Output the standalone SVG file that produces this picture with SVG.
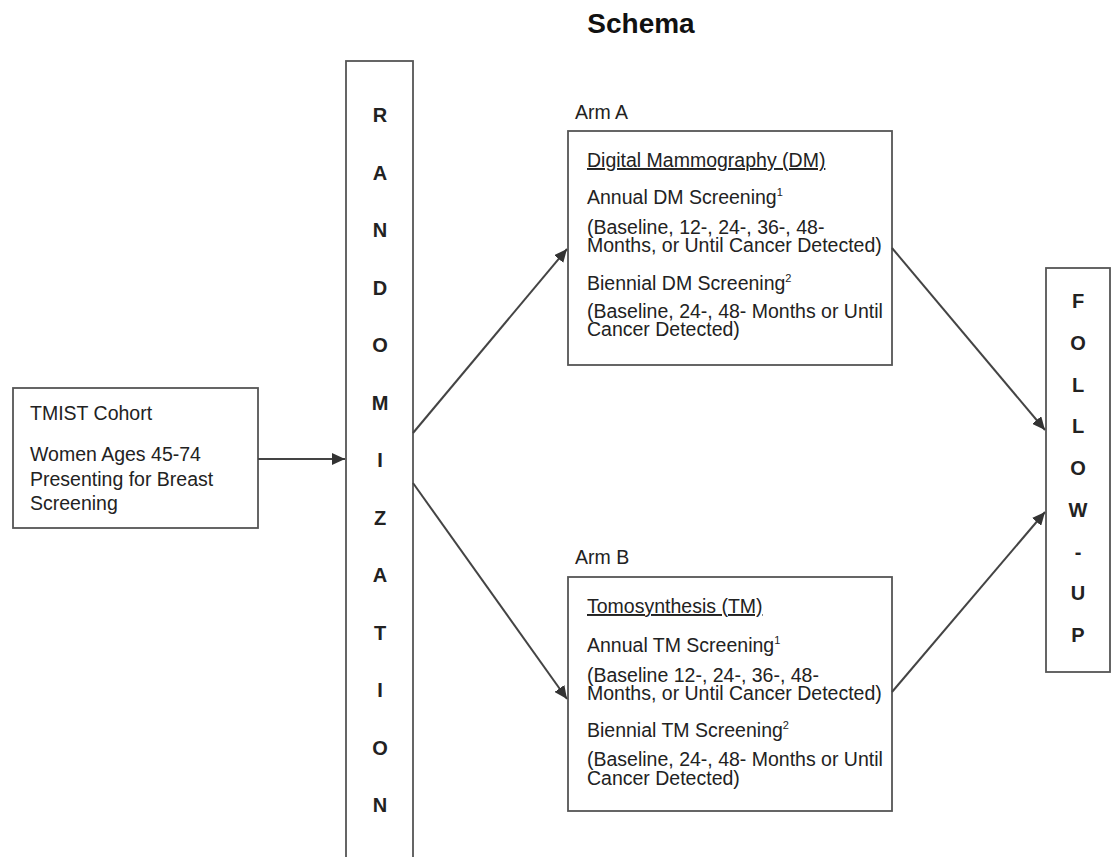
<svg xmlns="http://www.w3.org/2000/svg" width="1112" height="857" viewBox="0 0 1112 857">
<style>
.box{fill:#fff;stroke:#555;stroke-width:1.8}
.t{font-family:"Liberation Sans",Arial,sans-serif;font-size:19.5px;fill:#222}
.big{font-family:"Liberation Sans",Arial,sans-serif;font-size:20px;font-weight:bold;fill:#222;text-anchor:middle}
.title{font-family:"Liberation Sans",Arial,sans-serif;font-size:28px;font-weight:bold;fill:#111;text-anchor:middle}
.u{text-decoration:underline}
.sup{font-size:11px}
.conn{fill:none;stroke:#444;stroke-width:2}
</style>
<defs>
<marker id="ah" markerUnits="userSpaceOnUse" markerWidth="14" markerHeight="12" refX="13" refY="6" orient="auto">
<path d="M0,0 L13,6 L0,12 Z" fill="#333"/>
</marker>
</defs>
<rect width="1112" height="857" fill="#fff"/>
<text class="title" x="641" y="33">Schema</text>

<g id="cohort">
<rect class="box" x="13" y="388" width="245" height="140"/>
<text class="t" x="30" y="420">TMIST Cohort</text>
<text class="t" x="30" y="461">Women Ages 45-74</text>
<text class="t" x="30" y="486">Presenting for Breast</text>
<text class="t" x="30" y="510">Screening</text>
</g>

<g id="randomization">
<rect class="box" x="346" y="61" width="67" height="810"/>
<text class="big" x="380" y="122">R</text>
<text class="big" x="380" y="179.5">A</text>
<text class="big" x="380" y="237">N</text>
<text class="big" x="380" y="294.5">D</text>
<text class="big" x="380" y="352">O</text>
<text class="big" x="380" y="409.5">M</text>
<text class="big" x="380" y="467">I</text>
<text class="big" x="380" y="524.5">Z</text>
<text class="big" x="380" y="582">A</text>
<text class="big" x="380" y="639.5">T</text>
<text class="big" x="380" y="697">I</text>
<text class="big" x="380" y="754.5">O</text>
<text class="big" x="380" y="812">N</text>
</g>

<g id="armA">
<text class="t" x="575" y="119">Arm A</text>
<rect class="box" x="568" y="131" width="324" height="234"/>
<text class="t u" x="587" y="167">Digital Mammography (DM)</text>
<text class="t" x="587" y="204">Annual DM Screening<tspan class="sup" dy="-8">1</tspan></text>
<text class="t" x="587" y="234">(Baseline, 12-, 24-, 36-, 48-</text>
<text class="t" x="587" y="252">Months, or Until Cancer Detected)</text>
<text class="t" x="587" y="290">Biennial DM Screening<tspan class="sup" dy="-8">2</tspan></text>
<text class="t" x="587" y="318">(Baseline, 24-, 48- Months or Until</text>
<text class="t" x="587" y="336">Cancer Detected)</text>
</g>

<g id="armB">
<text class="t" x="575" y="564">Arm B</text>
<rect class="box" x="568" y="577" width="324" height="234"/>
<text class="t u" x="587" y="613">Tomosynthesis (TM)</text>
<text class="t" x="587" y="652">Annual TM Screening<tspan class="sup" dy="-8">1</tspan></text>
<text class="t" x="587" y="682">(Baseline 12-, 24-, 36-, 48-</text>
<text class="t" x="587" y="700">Months, or Until Cancer Detected)</text>
<text class="t" x="587" y="737">Biennial TM Screening<tspan class="sup" dy="-8">2</tspan></text>
<text class="t" x="587" y="766">(Baseline, 24-, 48- Months or Until</text>
<text class="t" x="587" y="785">Cancer Detected)</text>
</g>

<g id="followup">
<rect class="box" x="1046" y="268" width="64" height="404"/>
<text class="big" x="1078" y="308">F</text>
<text class="big" x="1078" y="350">O</text>
<text class="big" x="1078" y="391.5">L</text>
<text class="big" x="1078" y="433">L</text>
<text class="big" x="1078" y="475">O</text>
<text class="big" x="1078" y="517">W</text>
<text class="big" x="1078" y="558.5">-</text>
<text class="big" x="1078" y="600">U</text>
<text class="big" x="1078" y="642">P</text>
</g>

<g id="connectors">
<path class="conn" d="M258,459 L345,459" marker-end="url(#ah)"/>
<path class="conn" d="M413,433 L567,249" marker-end="url(#ah)"/>
<path class="conn" d="M413,483 L567,699" marker-end="url(#ah)"/>
<path class="conn" d="M892,248 L1045,430" marker-end="url(#ah)"/>
<path class="conn" d="M892,692 L1045,512" marker-end="url(#ah)"/>
</g>
</svg>
